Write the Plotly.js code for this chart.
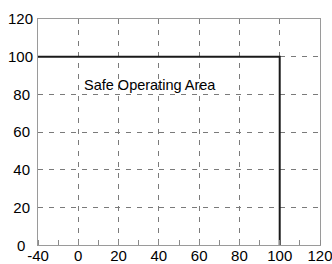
<!DOCTYPE html>
<html>
<head>
<meta charset="utf-8">
<script src="https://cdn.plot.ly/plotly-3.0.1.min.js"></script>
<style>html,body{margin:0;padding:0;background:#fff;}#chart{width:332px;height:264px;}</style>
</head>
<body>
<div id="chart"></div>
<script>
// Safe operating area boundary
var lineX = [-40, 100, 100];
var lineY = [100, 100, 0];
// Axis ticks
var xTickVals = [-20, 0, 20, 40, 60, 80, 100, 120];
var xTickText = ["-40", "0", "20", "40", "60", "80", "100", "120"];
var yTickVals = [0, 20, 40, 60, 80, 100, 120];
var yTickText = ["0", "20\u2009", "40\u2009", "60\u2009", "80\u2009", "100", "120"];
var areaLabel = "Safe Operating Area";

var FONT = "Liberation Sans, Arial, sans-serif";

var trace = {
  x: lineX, y: lineY, type: "scatter", mode: "lines",
  line: {color: "#1a1a1a", width: 2},
  hoverinfo: "skip", showlegend: false
};

// y "0" label is drawn centred (as in the reference), others from the axis
var yAxisText = yTickText.map(function (t, i) { return i === 0 ? "" : t; });

var layout = {
  width: 332, height: 264,
  margin: {l: 38, r: 12, t: 19, b: 19, pad: 0},
  paper_bgcolor: "#fff", plot_bgcolor: "#fff",
  font: {family: FONT, size: 15, color: "#000"},
  showlegend: false,
  xaxis: {
    range: [-20, 120], tickmode: "array", tickvals: xTickVals, ticktext: xTickText,
    showgrid: true, gridcolor: "#7a7a7a", gridwidth: 1, griddash: "5px,6px",
    zeroline: false, showline: true, mirror: true, linecolor: "#9a9a9a", linewidth: 1,
    ticks: "", automargin: false, ticklabelstandoff: -3, ticklabeloverflow: "allow",
    minor: {tickmode: "linear", tick0: 0, dtick: 10, ticks: "inside", ticklen: 5, tickcolor: "#8a8a8a", tickwidth: 1, showgrid: false},
    tickfont: {family: FONT, size: 15, color: "#000"}
  },
  yaxis: {
    range: [0, 120], tickmode: "array", tickvals: yTickVals, ticktext: yAxisText,
    showgrid: true, gridcolor: "#7a7a7a", gridwidth: 1, griddash: "5px,6px",
    zeroline: false, showline: true, mirror: true, linecolor: "#9a9a9a", linewidth: 1,
    ticks: "", automargin: false, ticklabelstandoff: 1, ticklabeloverflow: "allow",
    tickfont: {family: FONT, size: 15, color: "#000"}
  },
  annotations: [{
    text: areaLabel, x: 2, y: 85, xref: "x", yref: "y",
    xanchor: "left", yanchor: "middle", showarrow: false,
    font: {family: FONT, size: 14.5, color: "#000"}
  }, {
    text: yTickText[0], x: -0.06, y: yTickVals[0], xref: "paper", yref: "y",
    xanchor: "center", yanchor: "middle", showarrow: false,
    font: {family: FONT, size: 15, color: "#000"}
  }]
};

Plotly.newPlot("chart", [trace], layout, {displayModeBar: false, staticPlot: true});
</script>
</body>
</html>
